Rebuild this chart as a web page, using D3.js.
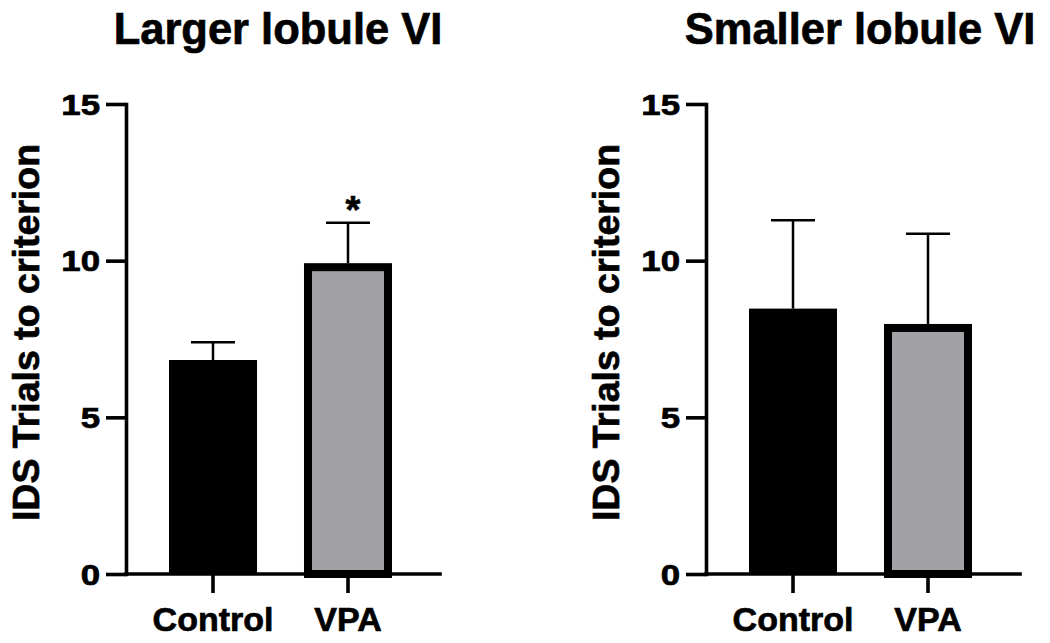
<!DOCTYPE html>
<html>
<head>
<meta charset="utf-8">
<script src="https://cdn.jsdelivr.net/npm/d3@7"></script>
<style>
  html, body { margin: 0; padding: 0; background: #fff; }
  text { font-family: "Liberation Sans", Arial, Helvetica, sans-serif; font-weight: bold; fill: #000; stroke: #000; stroke-width: 0.7px; }
</style>
</head>
<body>
<svg id="chart" width="1050" height="643"></svg>
<script>
// ---- data ----
const panelTitles = ["Larger lobule VI", "Smaller lobule VI"];
const categories = ["Control", "VPA"];
const meansLarger = [6.83, 9.92];
const errLarger = [7.40, 11.21];      // mean + SEM (top of whisker)
const meansSmaller = [8.47, 7.98];
const errSmaller = [11.29, 10.86];
const significance = [["", "*"], ["", ""]];
const yTicks = [0, 5, 10, 15];
const yLabel = "IDS Trials to criterion";

const panels = [
  { title: panelTitles[0], means: meansLarger, errs: errLarger, sig: significance[0] },
  { title: panelTitles[1], means: meansSmaller, errs: errSmaller, sig: significance[1] }
];

// ---- layout ----
const svg = d3.select("#chart");
const panelX = [126, 706];
const plotTop = 104, plotBottom = 574, axisLen = 314;
const fills = ["#000000", "#a2a1a6"];
const borders = [0, 8];

const y = d3.scaleLinear().domain([0, 15]).range([plotBottom, plotTop]);
const x = d3.scaleBand().domain(categories).range([0, 309])
  .paddingInner(0.348).paddingOuter(0.3185).align(0.5);

panels.forEach((p, pi) => {
  const g = svg.append("g").attr("transform", `translate(${panelX[pi]},0)`);

  // bars
  categories.forEach((c, i) => {
    const bx = x(c), bw = x.bandwidth();
    const top = y(p.means[i]);
    const sw = borders[i];
    // error whisker (upper only)
    g.append("line")
      .attr("x1", bx + bw / 2).attr("x2", bx + bw / 2)
      .attr("y1", top).attr("y2", y(p.errs[i]))
      .attr("stroke", "#000").attr("stroke-width", 2.5);
    g.append("line")
      .attr("x1", bx + bw / 2 - 22).attr("x2", bx + bw / 2 + 22)
      .attr("y1", y(p.errs[i])).attr("y2", y(p.errs[i]))
      .attr("stroke", "#000").attr("stroke-width", 2.5);
    if (sw > 0) {
      g.append("rect")
        .attr("x", bx + sw / 2).attr("y", top + sw / 2)
        .attr("width", bw - sw).attr("height", y(0) - top - sw / 2)
        .attr("fill", fills[i]).attr("stroke", "#000").attr("stroke-width", sw);
    } else {
      g.append("rect")
        .attr("x", bx).attr("y", top)
        .attr("width", bw).attr("height", y(0) - top)
        .attr("fill", fills[i]);
    }
    if (p.sig[i]) {
      g.append("text")
        .attr("x", bx + bw / 2 + 5).attr("y", y(p.errs[i]))
        .attr("text-anchor", "middle")
        .style("font-size", "38px")
        .text(p.sig[i]);
    }
  });

  // y axis
  const ya = g.append("g").call(
    d3.axisLeft(y).tickValues(yTicks).tickSize(20).tickSizeOuter(0).tickFormat(d3.format("d"))
  );
  ya.selectAll("path.domain").attr("stroke-width", 3.6).attr("stroke-linecap", "square");
  ya.selectAll(".tick line").attr("stroke-width", 3.6);
  ya.selectAll(".tick text")
    .attr("x", 0).attr("dy", "0.355em")
    .attr("transform", "translate(-26,0) scale(1.2,1)")
    .attr("text-anchor", "end")
    .style("font-size", "29px")
    .style("font-family", "'Liberation Sans', Arial, sans-serif")
    .style("font-weight", "bold");

  // x axis
  const xa = g.append("g").attr("transform", `translate(0,${plotBottom})`).call(
    d3.axisBottom(x).tickSize(19).tickSizeOuter(0)
  );
  xa.selectAll("path.domain").attr("d", `M0,0H${axisLen}`)
    .attr("stroke-width", 3.6).attr("stroke-linecap", "square");
  xa.selectAll(".tick line").attr("stroke-width", 3.6);
  xa.selectAll(".tick text")
    .attr("y", 57).attr("dy", 0)
    .style("font-size", "34px")
    .style("font-family", "'Liberation Sans', Arial, sans-serif")
    .style("font-weight", "bold");

  // y label
  g.append("text")
    .attr("transform", `translate(${39 - 126},${332.5}) rotate(-90)`)
    .attr("text-anchor", "middle")
    .style("font-size", "37.5px")
    .text(yLabel);

  // title
  g.append("text")
    .attr("x", 152 + pi * 2).attr("y", 43.5)
    .attr("text-anchor", "middle")
    .style("font-size", "43.5px")
    .text(p.title);
});
</script>
</body>
</html>
